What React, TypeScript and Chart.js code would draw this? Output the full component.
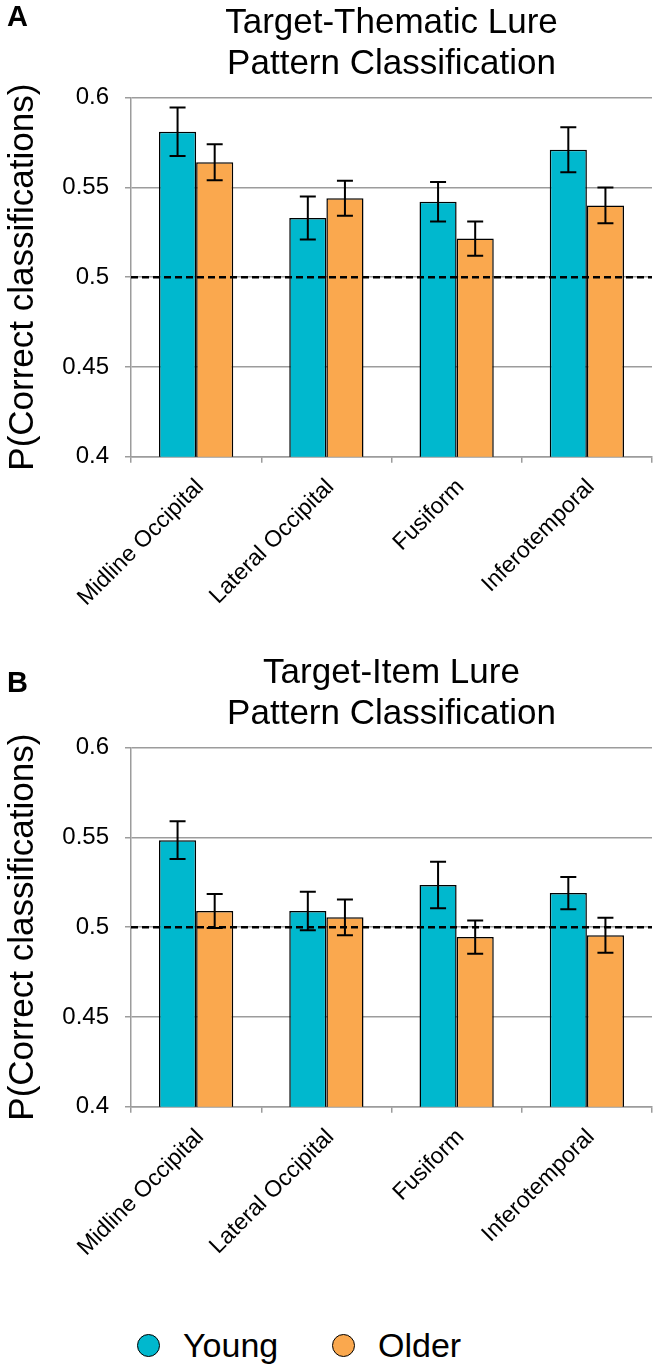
import React, { useEffect, useRef } from 'react';
import { Chart, registerables } from 'chart.js';

Chart.register(...registerables);

// ---------- data ----------
const CATEGORIES = ['Midline Occipital', 'Lateral Occipital', 'Fusiform', 'Inferotemporal'];
const SERIES_NAMES = ['Young', 'Older'];

const A_YOUNG = [0.581, 0.533, 0.542, 0.571];
const A_YOUNG_ERR = [0.0135, 0.012, 0.011, 0.0125];
const A_OLDER = [0.564, 0.544, 0.5215, 0.540];
const A_OLDER_ERR = [0.010, 0.0097, 0.0095, 0.010];

const B_YOUNG = [0.5485, 0.509, 0.5235, 0.519];
const B_YOUNG_ERR = [0.0105, 0.0107, 0.013, 0.009];
const B_OLDER = [0.509, 0.5055, 0.4945, 0.4955];
const B_OLDER_ERR = [0.0095, 0.010, 0.0093, 0.0097];

const Y_TICKS = [0.4, 0.45, 0.5, 0.55, 0.6];
const Y_TICK_LABELS = ['0.4', '0.45', '0.5', '0.55', '0.6'];
const CHANCE = 0.5;

const A_TITLE = ['Target-Thematic Lure', 'Pattern Classification'];
const B_TITLE = ['Target-Item Lure', 'Pattern Classification'];
const Y_TITLE = 'P(Correct classifications)';

// ---------- style ----------
const FONT = '"Liberation Sans", Arial, Helvetica, sans-serif';
const YOUNG_COLOR = '#00B8CE';
const OLDER_COLOR = '#FAA84E';
const GRID = '#9c9c9c';

function makeOverlayPlugin() {
  return {
    id: 'overlay',
    afterDatasetsDraw(chart: any) {
      const { ctx, chartArea } = chart;
      const y = chart.scales.y;
      ctx.save();
      // chance line
      const yc = y.getPixelForValue(CHANCE);
      ctx.setLineDash([7, 4]);
      ctx.lineWidth = 2.5;
      ctx.strokeStyle = '#000';
      ctx.beginPath();
      ctx.moveTo(chartArea.left, yc);
      ctx.lineTo(chartArea.right, yc);
      ctx.stroke();
      ctx.setLineDash([]);
      // error bars
      chart.data.datasets.forEach((ds: any, di: number) => {
        const meta = chart.getDatasetMeta(di);
        meta.data.forEach((bar: any, i: number) => {
          const v = ds.data[i];
          const e = ds.errors[i];
          const x = bar.x;
          const yt = y.getPixelForValue(v + e);
          const yb = y.getPixelForValue(v - e);
          ctx.lineWidth = 2;
          ctx.strokeStyle = '#000';
          ctx.beginPath();
          ctx.moveTo(x, yt);
          ctx.lineTo(x, yb);
          ctx.moveTo(x - 8, yt);
          ctx.lineTo(x + 8, yt);
          ctx.moveTo(x - 8, yb);
          ctx.lineTo(x + 8, yb);
          ctx.stroke();
        });
      });
      ctx.restore();
    },
  };
}

type PanelProps = {
  title: string[];
  young: number[];
  youngErr: number[];
  older: number[];
  olderErr: number[];
  top: number;
};

const CANVAS_W = 656;
const CANVAS_H = 650;

function Panel({ title, young, youngErr, older, olderErr, top }: PanelProps) {
  const ref = useRef<HTMLCanvasElement | null>(null);
  useEffect(() => {
    if (!ref.current) return;
    const chart = new Chart(ref.current, {
      type: 'bar',
      data: {
        labels: CATEGORIES,
        datasets: [
          {
            label: SERIES_NAMES[0],
            data: young,
            errors: youngErr,
            backgroundColor: YOUNG_COLOR,
            borderColor: '#000',
            borderWidth: 1.5,
            barPercentage: 1,
            categoryPercentage: 0.57,
          } as any,
          {
            label: SERIES_NAMES[1],
            data: older,
            errors: olderErr,
            backgroundColor: OLDER_COLOR,
            borderColor: '#000',
            borderWidth: 1.5,
            barPercentage: 1,
            categoryPercentage: 0.57,
          } as any,
        ],
      },
      options: {
        animation: false,
        responsive: false,
        layout: { padding: { top: 0, left: 0, right: 4, bottom: 0 } },
        plugins: {
          legend: { display: false },
          tooltip: { enabled: false },
          title: {
            display: true,
            text: title,
            fullSize: false,
            color: '#000',
            font: { family: FONT, size: 35, weight: 'normal', lineHeight: 41 / 35 },
            padding: { top: 2.4, bottom: 13.3 },
          },
        },
        scales: {
          x: {
            offset: true,
            grid: {
              display: true,
              drawOnChartArea: false,
              drawTicks: true,
              tickLength: 6,
              color: GRID,
              lineWidth: 1.5,
              offset: true,
            },
            border: { display: true, color: GRID, width: 1.5 },
            ticks: {
              color: '#000',
              font: { family: FONT, size: 23 },
              minRotation: 45,
              maxRotation: 45,
              padding: 11,
              labelOffset: 4,
              autoSkip: false,
            },
            afterFit: (s: any) => {
              s.height = 193.3;
            },
          },
          y: {
            min: 0.4,
            max: 0.6,
            afterBuildTicks: (s: any) => {
              s.ticks = Y_TICKS.map((v) => ({ value: v }));
            },
            ticks: {
              color: '#000',
              font: { family: FONT, size: 24 },
              padding: 16,
              callback: (value: any) => {
                const idx = Y_TICKS.findIndex((t) => Math.abs(t - Number(value)) < 1e-6);
                return idx >= 0 ? Y_TICK_LABELS[idx] : '';
              },
            },
            grid: { color: GRID, lineWidth: 1.5, tickLength: 6, drawTicks: true },
            border: { display: true, color: GRID, width: 1.5 },
            title: {
              display: true,
              text: Y_TITLE,
              color: '#000',
              font: { family: FONT, size: 35 },
              padding: { top: 2, bottom: 0 },
            },
            afterFit: (s: any) => {
              s.width = 131;
            },
          },
        },
      } as any,
      plugins: [makeOverlayPlugin()],
    });
    return () => chart.destroy();
  }, [title, young, youngErr, older, olderErr]);

  return (
    <canvas
      ref={ref}
      width={CANVAS_W}
      height={CANVAS_H}
      style={{ position: 'absolute', left: 0, top, width: CANVAS_W, height: CANVAS_H }}
    />
  );
}

const letterStyle = (top: number): React.CSSProperties => ({
  position: 'absolute',
  left: 7,
  top,
  fontFamily: FONT,
  fontWeight: 'bold',
  fontSize: 29,
  lineHeight: 1,
  color: '#000',
});

function LegendItem({ color, label, left }: { color: string; label: string; left: number }) {
  return (
    <>
      <div
        style={{
          position: 'absolute',
          left,
          top: 1333.5,
          width: 23,
          height: 23,
          boxSizing: 'border-box',
          borderRadius: '50%',
          border: '1.5px solid #000',
          background: color,
        }}
      />
      <div
        style={{
          position: 'absolute',
          left: left + 46,
          top: 1327.5,
          fontFamily: FONT,
          fontSize: 34,
          lineHeight: 1,
          color: '#000',
          whiteSpace: 'nowrap',
        }}
      >
        {label}
      </div>
    </>
  );
}

export default function App() {
  return (
    <div
      style={{
        position: 'absolute',
        left: 0,
        top: 0,
        width: 656,
        height: 1367,
        background: '#fff',
        overflow: 'hidden',
      }}
    >
      <Panel title={A_TITLE} young={A_YOUNG} youngErr={A_YOUNG_ERR} older={A_OLDER} olderErr={A_OLDER_ERR} top={0} />
      <Panel title={B_TITLE} young={B_YOUNG} youngErr={B_YOUNG_ERR} older={B_OLDER} olderErr={B_OLDER_ERR} top={650} />
      <div style={letterStyle(1.5)}>A</div>
      <div style={letterStyle(667.5)}>B</div>
      <LegendItem color={YOUNG_COLOR} label={SERIES_NAMES[0]} left={137} />
      <LegendItem color={OLDER_COLOR} label={SERIES_NAMES[1]} left={332} />
    </div>
  );
}
